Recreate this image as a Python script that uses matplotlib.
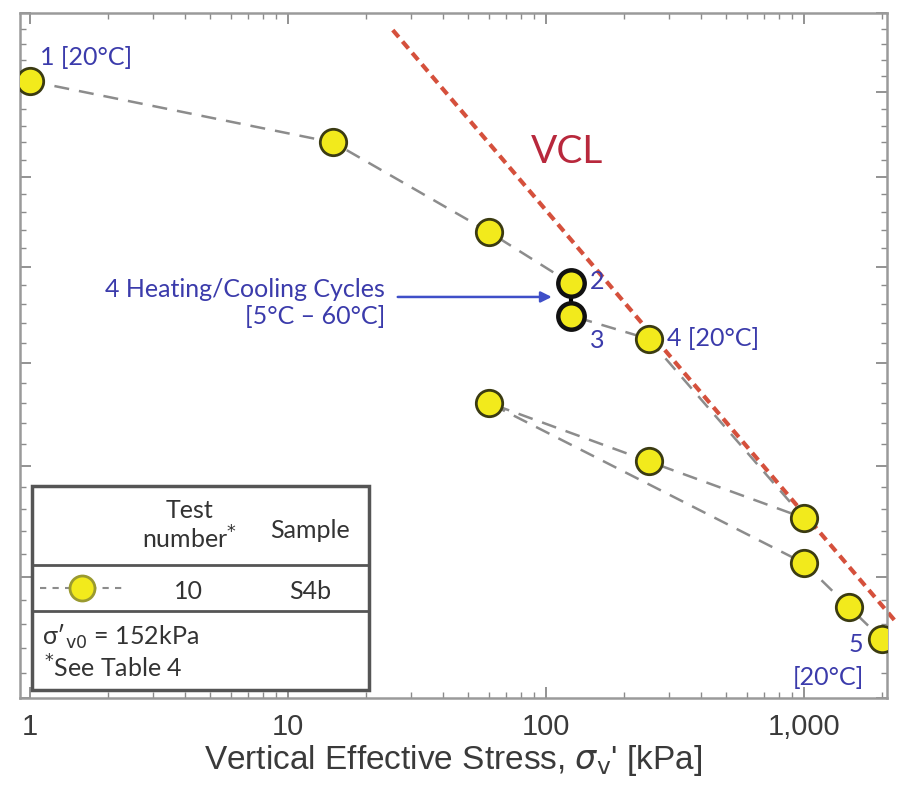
import numpy as np
import matplotlib.pyplot as plt
from matplotlib.ticker import FixedLocator, NullFormatter, LogLocator
from matplotlib.lines import Line2D
from matplotlib.patches import Rectangle

# oedometer test 10, sample S4b
stress = [1, 15, 60, 125, 125, 250, 1000, 250, 60, 1000, 1500, 2000]
void = [0.857, 0.820, 0.769, 0.741, 0.724, 0.712, 0.626, 0.652, 0.680, 0.606, 0.587, 0.574]

# virgin compression line
vcl_x = [25.5, 2250]
vcl_y = [0.889, 0.5815]

xticks = [1, 10, 100, 1000]
xticklabels = ['1', '10', '100', '1,000']
yticks = [0.55, 0.60, 0.65, 0.70, 0.75, 0.80, 0.85, 0.90]

blue = '#3b3bab'
yellow = '#f2ea1c'
edge = '#3b3b12'
txtfont = 'Lato'

fig = plt.figure(figsize=(8.99, 7.92), dpi=100)
ax = fig.add_axes([0.0222, 0.1187, 0.9645, 0.8649])
ax.set_xscale('log')
ax.set_yscale('log')
ax.set_xlim(0.915, 2100)
ax.set_ylim(0.55, 0.90)

# VCL
ax.plot(vcl_x, vcl_y, color='#d5503c', lw=3, dashes=(2.2, 1.4), clip_on=False, zorder=2)
ax.text(0.631, 0.797, 'VCL', transform=ax.transAxes, color='#b8283c', fontsize=28,
        family=txtfont, ha='center', va='center')

# test path
ax.plot(stress, void, color='#8c8c8c', lw=1.8, dashes=(6, 4), zorder=3)
ax.plot(stress[3:5], void[3:5], color='black', lw=3, zorder=3)
ax.plot(stress, void, 'o', ms=19, mfc=yellow, mec=edge, mew=2, zorder=4)
ax.plot(stress[3:5], void[3:5], 'o', ms=19, mfc=yellow, mec='#111111', mew=3.2, zorder=5)

# stage labels
lab = dict(color=blue, fontsize=18, family=txtfont, textcoords='offset points')
ax.annotate('1 [20°C]', (stress[0], void[0]), xytext=(7, 17), ha='left', va='center', **lab)
ax.annotate('2', (stress[3], void[3]), xytext=(14, 1), ha='left', va='center', **lab)
ax.annotate('3', (stress[4], void[4]), xytext=(14, -18), ha='left', va='center', **lab)
ax.annotate('4 [20°C]', (stress[5], void[5]), xytext=(13, 0), ha='left', va='center', **lab)
ax.annotate('5', (stress[11], void[11]), xytext=(-13, -4), ha='right', va='center', **lab)
ax.annotate('[20°C]', (stress[11], void[11]), xytext=(-13, -28), ha='right', va='center', **lab)

ax.annotate('', xy=(108, 0.7338), xytext=(26, 0.7338),
            arrowprops=dict(arrowstyle='-|>', color='#3f4fc8', lw=1.8, mutation_scale=16))
ax.text(23.8, 0.7306, '4 Heating/Cooling Cycles\n[5°C – 60°C]', color=blue, fontsize=18,
        family=txtfont, ha='right', va='center', multialignment='right', linespacing=1.25)

# axes styling
for s in ax.spines.values():
    s.set_color('#9a9a9a')
    s.set_linewidth(1.8)
ax.xaxis.set_major_locator(FixedLocator(xticks))
ax.set_xticklabels(xticklabels)
ax.xaxis.set_minor_locator(LogLocator(base=10, subs=np.arange(2, 10)))
ax.xaxis.set_minor_formatter(NullFormatter())
ax.yaxis.set_major_locator(FixedLocator(yticks))
ax.yaxis.set_minor_locator(FixedLocator(np.arange(0.55, 0.901, 0.01)))
ax.yaxis.set_major_formatter(NullFormatter())
ax.yaxis.set_minor_formatter(NullFormatter())
ax.tick_params(which='both', direction='in', top=True, right=True, color='#8a8a8a')
ax.tick_params(which='major', length=8, width=1.3)
ax.tick_params(which='minor', length=4, width=1)
ax.tick_params(axis='x', which='major', pad=11, labelsize=21, labelcolor='#3a3a3a')
for t in ax.get_xticklabels():
    t.set_family('Liberation Sans')
ax.set_xlabel(r"Vertical Effective Stress, $\sigma_{\mathrm{v}}$' [kPa]", fontsize=24,
              family='Liberation Sans', color='#3a3a3a', labelpad=1)

# key table
tc = '#555555'
ax.add_patch(Rectangle((0.0138, 0.0117), 0.3887, 0.2978, transform=ax.transAxes,
                       fill=True, fc='white', ec=tc, lw=2.5, zorder=6))
for yy in (0.194, 0.127):
    ax.add_line(Line2D([0.0138, 0.4025], [yy, yy], transform=ax.transAxes, color=tc, lw=2, zorder=7))
kt = dict(transform=ax.transAxes, fontsize=18, family=txtfont, color='#333333', zorder=8)
ax.text(0.196, 0.252, 'Test\nnumber$^{*}$', ha='center', va='center', linespacing=1.15, **kt)
ax.text(0.335, 0.245, 'Sample', ha='center', va='center', **kt)
ax.text(0.194, 0.155, '10', ha='center', va='center', **kt)
ax.text(0.335, 0.155, 'S4b', ha='center', va='center', **kt)
ax.add_line(Line2D([0.023, 0.118], [0.161, 0.161], transform=ax.transAxes, color='#8c8c8c',
                   lw=1.5, dashes=(3, 3), zorder=8))
ax.plot([0.072], [0.161], 'o', transform=ax.transAxes, ms=18, mfc=yellow, mec='#9a9a30', mew=2, zorder=9)
ax.text(0.025, 0.089, r"σ′$_{\mathrm{v0}}$ = 152kPa", ha='left', va='center', **kt)
ax.text(0.028, 0.044, '$^{*}$See Table 4', ha='left', va='center', **kt)

fig.savefig('out.png', dpi=100)
